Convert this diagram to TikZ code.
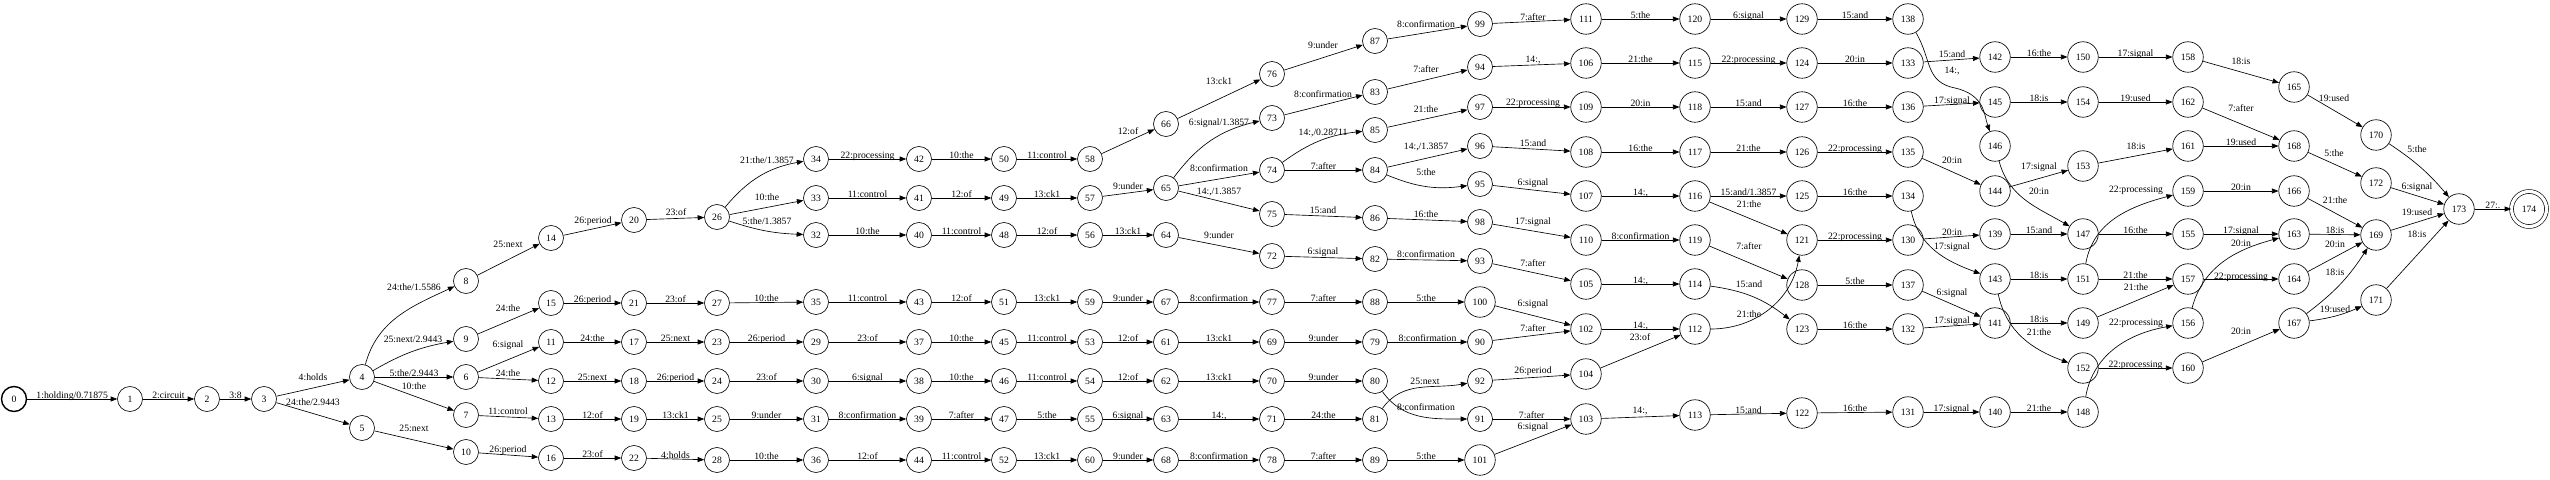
\documentclass[tikz,border=0pt]{standalone}
\usepackage{fontspec}
\setmainfont{Liberation Serif}
\usetikzlibrary{arrows.meta}
\newcommand\lab{\fontsize{9.7}{11}\selectfont}
\tikzset{
 st/.style={circle,draw,line width=0.65pt,minimum size=25pt,inner sep=0pt,font=\lab},
 bs/.style={st,minimum size=30.5pt},
 startst/.style={st,line width=1.4pt},
 finalst/.style={st,minimum size=35pt,double,double distance=3.2pt},
 edge/.style={-{Triangle[length=6.5pt,width=5pt]},line width=0.65pt},
 lbl/.style={font=\lab,inner sep=0pt},
}
\newcommand\eS[3]{\draw[edge] (#1) -- (#2) node[lbl,midway,anchor=base,yshift=1pt]{#3};}
\newcommand\eL[5]{\draw[edge] (#1) -- (#2) node[lbl] at (#4,#5) {#3};}
\newcommand\eC[6]{\draw[edge] (#1) #3 (#2) node[lbl] at (#5,#6) {#4};}
\begin{document}
\begin{tikzpicture}[x=1pt,y=-1pt]
\useasboundingbox (0,0) rectangle (2550,479);
% ---------- states ----------
\node[startst] (n0) at (14,399) {0};
\node[st] (n1) at (130,399) {1};
\node[st] (n2) at (207,399) {2};
\node[st] (n3) at (264,399) {3};
\node[st] (n4) at (362,377) {4};
\node[st] (n5) at (362,428) {5};
\foreach \n/\y in {8/281,9/339,6/377,7/415,10/452} \node[st] (n\n) at (466,\y) {\n};
\foreach \n/\y in {14/238,15/303,11/342,12/381,13/419,16/458} \node[st] (n\n) at (551,\y) {\n};
\foreach \n/\y in {20/220,21/303,17/342,18/381,19/419,22/458} \node[st] (n\n) at (634,\y) {\n};
\foreach \n/\y in {26/217,27/303,23/342,24/381,25/419,28/460} \node[st] (n\n) at (717,\y) {\n};
\foreach \n/\y in {34/159,33/198,32/235,35/302,29/342,30/381,31/419,36/460} \node[st] (n\n) at (816,\y) {\n};
\foreach \n/\y in {42/159,41/198,40/235,43/302,37/342,38/381,39/419,44/460} \node[st] (n\n) at (919,\y) {\n};
\foreach \n/\y in {50/159,49/198,48/235,51/302,45/342,46/381,47/419,52/460} \node[st] (n\n) at (1004,\y) {\n};
\foreach \n/\y in {58/159,57/198,56/235,59/302,53/342,54/381,55/419,60/460} \node[st] (n\n) at (1090,\y) {\n};
\foreach \n/\y in {66/124,65/188,64/235,67/302,61/342,62/381,63/419,68/460} \node[st] (n\n) at (1166,\y) {\n};
\foreach \n/\y in {76/74,73/118,74/170,75/214,72/256,77/302,69/342,70/381,71/419,78/460} \node[st] (n\n) at (1272,\y) {\n};
\foreach \n/\y in {87/41,83/92,85/130,84/170,86/218,82/259,88/302,79/342,80/381,81/419,89/460} \node[st] (n\n) at (1375,\y) {\n};
\foreach \n/\y in {99/24,94/67,97/107,96/146,95/184,98/222,93/261,90/342,92/381,91/419} \node[st] (n\n) at (1480,\y) {\n};
\foreach \n/\y in {100/302,101/460} \node[bs] (n\n) at (1480,\y) {\n};
\foreach \n/\y in {111/19,106/63,109/107,108/152,107/196,110/240,105/284,102/329,104/374,103/419} \node[bs] (n\n) at (1586,\y) {\n};
\foreach \n/\y in {120/19,115/63,118/107,117/152,116/196,119/240,114/284,112/329,113/415} \node[bs] (n\n) at (1695,\y) {\n};
\foreach \n/\y in {129/19,124/63,127/107,126/152,125/196,121/240,128/285,123/329,122/413} \node[bs] (n\n) at (1802,\y) {\n};
\foreach \n/\y in {138/19,133/63,136/107,135/152,134/196,130/240,137/285,132/329,131/412} \node[bs] (n\n) at (1908,\y) {\n};
\foreach \n/\y in {142/57,145/102,146/146,144/191,139/234,143/279,141/323,140/412} \node[bs] (n\n) at (1995,\y) {\n};
\foreach \n/\y in {150/57,154/102,153/166,147/234,151/279,149/323,152/368,148/412} \node[bs] (n\n) at (2083,\y) {\n};
\foreach \n/\y in {158/57,162/102,161/146,159/191,155/234,157/279,156/323,160/368} \node[bs] (n\n) at (2188,\y) {\n};
\foreach \n/\y in {165/87,168/146,166/191,163/234,164/279,167/323} \node[bs] (n\n) at (2294,\y) {\n};
\foreach \n/\y in {170/135,172/183,169/235,171/300} \node[bs] (n\n) at (2376,\y) {\n};
\node[bs] (n173) at (2459,209) {173};
\node[finalst] (n174) at (2529,209) {174};
% ---------- transitions ----------
\eS{n0}{n1}{1:holding/0.71875}
\eS{n1}{n2}{2:circuit}
\eS{n2}{n3}{3:8}
\eL{n3}{n4}{4:holds}{313}{377}
\eL{n3}{n5}{24:the/2.9443}{313}{402}
\eC{n4}{n8}{to[out=75,in=205]}{24:the/1.5586}{414}{287}
\eC{n4}{n9}{to[bend left=10]}{25:next/2.9443}{413}{339}
\eS{n4}{n6}{5:the/2.9443}
\eL{n4}{n7}{10:the}{414}{386}
\eL{n5}{n10}{25:next}{414}{428}
\eL{n8}{n14}{25:next}{508}{244}
\eL{n14}{n20}{26:period}{593}{221}
\eL{n20}{n26}{23:of}{676}{212}
\eC{n26}{n34}{to[bend left=20]}{21:the/1.3857}{767}{160}
\eL{n26}{n33}{10:the}{767}{197}
\eC{n26}{n32}{to[bend right=8]}{5:the/1.3857}{767}{221}
\eL{n9}{n15}{24:the}{508}{308}
\eS{n15}{n21}{26:period}
\eS{n21}{n27}{23:of}
\eS{n27}{n35}{10:the}
\eL{n6}{n11}{6:signal}{508}{345}
\eS{n11}{n17}{24:the}
\eS{n17}{n23}{25:next}
\eS{n23}{n29}{26:period}
\eL{n6}{n12}{24:the}{508}{373}
\eS{n12}{n18}{25:next}
\eS{n18}{n24}{26:period}
\eS{n24}{n30}{23:of}
\eL{n7}{n13}{11:control}{508}{411}
\eS{n13}{n19}{12:of}
\eS{n19}{n25}{13:ck1}
\eS{n25}{n31}{9:under}
\eL{n10}{n16}{26:period}{508}{450}
\eS{n16}{n22}{23:of}
\eS{n22}{n28}{4:holds}
\eS{n28}{n36}{10:the}
%
\eS{n34}{n42}{22:processing}
\eS{n42}{n50}{10:the}
\eS{n50}{n58}{11:control}
\eL{n58}{n66}{12:of}{1128}{131}
\eS{n33}{n41}{11:control}
\eS{n41}{n49}{12:of}
\eS{n49}{n57}{13:ck1}
\eL{n57}{n65}{9:under}{1128}{186}
\eS{n32}{n40}{10:the}
\eS{n40}{n48}{11:control}
\eS{n48}{n56}{12:of}
\eS{n56}{n64}{13:ck1}
\eS{n35}{n43}{11:control}
\eS{n43}{n51}{12:of}
\eS{n51}{n59}{13:ck1}
\eS{n59}{n67}{9:under}
\eS{n29}{n37}{23:of}
\eS{n37}{n45}{10:the}
\eS{n45}{n53}{11:control}
\eS{n53}{n61}{12:of}
\eS{n30}{n38}{6:signal}
\eS{n38}{n46}{10:the}
\eS{n46}{n54}{11:control}
\eS{n54}{n62}{12:of}
\eS{n31}{n39}{8:confirmation}
\eS{n39}{n47}{7:after}
\eS{n47}{n55}{5:the}
\eS{n55}{n63}{6:signal}
\eS{n36}{n44}{12:of}
\eS{n44}{n52}{11:control}
\eS{n52}{n60}{13:ck1}
\eS{n60}{n68}{9:under}
%
\eL{n66}{n76}{13:ck1}{1219}{81}
\eC{n65}{n73}{to[bend left=20]}{6:signal/1.3857}{1219}{123}
\eL{n65}{n74}{8:confirmation}{1219}{168}
\eL{n65}{n75}{14:,/1.3857}{1219}{192}
\eL{n64}{n72}{9:under}{1219}{235}
\eS{n67}{n77}{8:confirmation}
\eS{n61}{n69}{13:ck1}
\eS{n62}{n70}{13:ck1}
\eS{n63}{n71}{14:,}
\eS{n68}{n78}{8:confirmation}
%
\eL{n76}{n87}{9:under}{1323}{45}
\eL{n87}{n99}{8:confirmation}{1426}{24}
\eL{n99}{n111}{7:after}{1533}{17}
\eL{n73}{n83}{8:confirmation}{1323}{94}
\eL{n83}{n94}{7:after}{1426}{69}
\eL{n94}{n106}{14:,}{1533}{60}
\eC{n74}{n85}{to[bend left=15]}{14:,/0.28711}{1323}{133}
\eL{n85}{n97}{21:the}{1426}{109}
\eL{n97}{n109}{22:processing}{1533}{103}
\eS{n74}{n84}{7:after}
\eL{n84}{n96}{14:,/1.3857}{1426}{147}
\eL{n96}{n108}{15:and}{1533}{143}
\eC{n84}{n95}{to[bend right=15]}{5:the}{1426}{172}
\eL{n95}{n107}{6:signal}{1533}{183}
\eL{n75}{n86}{15:and}{1323}{210}
\eL{n86}{n98}{16:the}{1426}{214}
\eL{n98}{n110}{17:signal}{1533}{222}
\eL{n72}{n82}{6:signal}{1323}{252}
\eL{n82}{n93}{8:confirmation}{1426}{254}
\eL{n93}{n105}{7:after}{1533}{263}
\eS{n77}{n88}{7:after}
\eS{n88}{n100}{5:the}
\eL{n100}{n102}{6:signal}{1533}{304}
\eS{n69}{n79}{9:under}
\eS{n79}{n90}{8:confirmation}
\eL{n90}{n102}{7:after}{1533}{328}
\eS{n70}{n80}{9:under}
\eC{n80}{n91}{to[out=-55,in=180]}{8:confirmation}{1426}{407}
\eS{n71}{n81}{24:the}
\eC{n81}{n92}{to[out=55,in=190]}{25:next}{1425}{381}
\eL{n92}{n104}{26:period}{1533}{371}
\eS{n91}{n103}{7:after}
\eL{n101}{n103}{6:signal}{1533}{427}
\eS{n78}{n89}{7:after}
\eS{n89}{n101}{5:the}
%
\eS{n111}{n120}{5:the}
\eS{n120}{n129}{6:signal}
\eS{n129}{n138}{15:and}
\eS{n106}{n115}{21:the}
\eS{n115}{n124}{22:processing}
\eS{n124}{n133}{20:in}
\eL{n133}{n142}{15:and}{1952}{54}
\draw[edge] (n138) .. controls (1932,60) and (1925,82) .. (1955,88) .. controls (1985,95) and (1984,115) .. (n146) node[lbl] at (1952,71) {14:,};
\eS{n109}{n118}{20:in}
\eS{n118}{n127}{15:and}
\eS{n127}{n136}{16:the}
\eL{n136}{n145}{17:signal}{1952}{101}
\eS{n108}{n117}{16:the}
\eS{n117}{n126}{21:the}
\eS{n126}{n135}{22:processing}
\eL{n135}{n144}{20:in}{1952}{160}
\eS{n107}{n116}{14:,}
\eS{n116}{n125}{15:and/1.3857}
\eL{n116}{n121}{21:the}{1749}{204}
\eS{n125}{n134}{16:the}
\eC{n134}{n143}{to[out=-78,in=160]}{17:signal}{1952}{247}
\eS{n110}{n119}{8:confirmation}
\eL{n119}{n128}{7:after}{1749}{246}
\eS{n121}{n130}{22:processing}
\eL{n130}{n139}{20:in}{1952}{232}
\eS{n105}{n114}{14:,}
\eC{n114}{n123}{to[bend left=15]}{15:and}{1749}{284}
\eS{n128}{n137}{5:the}
\eL{n137}{n141}{6:signal}{1952}{293}
\eS{n102}{n112}{14:,}
\eL{n104}{n112}{23:of}{1640}{337}
\eC{n112}{n121}{to[out=0,in=-100]}{21:the}{1749}{314}
\eS{n123}{n132}{16:the}
\eL{n132}{n141}{17:signal}{1952}{321}
\eL{n103}{n113}{14:,}{1640}{411}
\eS{n113}{n122}{15:and}
\eS{n122}{n131}{16:the}
\eS{n131}{n140}{17:signal}
%
\eS{n142}{n150}{16:the}
\eS{n150}{n158}{17:signal}
\eL{n158}{n165}{18:is}{2241}{61}
\eL{n165}{n170}{19:used}{2334}{98}
\eC{n170}{n173}{to[bend left=8]}{5:the}{2417}{149}
\eS{n145}{n154}{18:is}
\eS{n154}{n162}{19:used}
\eL{n162}{n168}{7:after}{2241}{108}
\eL{n168}{n172}{5:the}{2334}{153}
\eL{n172}{n173}{6:signal}{2417}{187}
\eL{n144}{n153}{17:signal}{2039}{167}
\eL{n153}{n161}{18:is}{2136}{146}
\eS{n161}{n168}{19:used}
\eC{n146}{n147}{to[out=-75,in=150]}{20:in}{2039}{191}
\eS{n159}{n166}{20:in}
\eL{n166}{n169}{21:the}{2335}{200}
\eS{n139}{n147}{15:and}
\eS{n147}{n155}{16:the}
\eC{n151}{n159}{to[out=80,in=195]}{22:processing}{2136}{190}
\eS{n155}{n163}{17:signal}
\eS{n163}{n169}{18:is}
\eS{n143}{n151}{18:is}
\eS{n151}{n157}{21:the}
\eL{n157}{n164}{22:processing}{2241}{277}
\eL{n164}{n169}{20:in}{2335}{244}
\eC{n156}{n163}{to[out=75,in=195]}{20:in}{2241}{243}
\eL{n149}{n157}{21:the}{2136}{287}
\eS{n141}{n149}{18:is}
\eC{n143}{n152}{to[out=-78,in=160]}{21:the}{2039}{332}
\eC{n148}{n156}{to[out=80,in=190]}{22:processing}{2136}{323}
\eS{n152}{n160}{22:processing}
\eL{n160}{n167}{20:in}{2241}{331}
\eC{n167}{n169}{to[bend right=10]}{18:is}{2335}{272}
\eC{n167}{n171}{to[bend right=8]}{19:used}{2335}{309}
\eL{n169}{n173}{19:used}{2417}{212}
\eL{n171}{n173}{18:is}{2417}{234}
\eS{n173}{n174}{27:.}
\eS{n140}{n148}{21:the}
\end{tikzpicture}
\end{document}
